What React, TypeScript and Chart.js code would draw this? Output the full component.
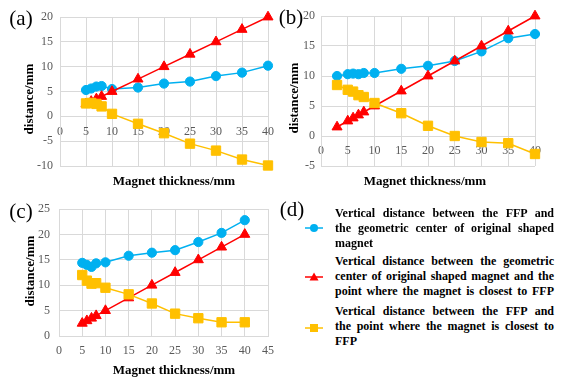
import React, { useEffect, useRef } from "react";
import { Chart, registerables } from "chart.js";
Chart.register(...registerables);

// ---------- data ----------
const seriesNames = [
  "Vertical distance between the FFP and the geometric center of original shaped magnet",
  "Vertical distance between the geometric center of original shaped magnet and the point where the magnet is closest to FFP",
  "Vertical distance between the FFP and the point where the magnet is closest to FFP",
];

const thickA = [5, 6, 7, 8, 10, 15, 20, 25, 30, 35, 40];
const blueA = [5.3, 5.6, 6.0, 6.1, 5.5, 5.8, 6.6, 7.0, 8.1, 8.8, 10.2];
const redA = [2.5, 3, 3.5, 4, 5, 7.5, 10, 12.5, 15, 17.5, 20];
const yellowA = [2.6, 2.7, 2.5, 2.0, 0.5, -1.5, -3.4, -5.5, -6.9, -8.7, -9.9];

const thickB = [3, 5, 6, 7, 8, 10, 15, 20, 25, 30, 35, 40];
const blueB = [10.0, 10.3, 10.4, 10.3, 10.5, 10.5, 11.2, 11.7, 12.5, 14.1, 16.3, 17.0];
const redB = [1.5, 2.5, 3, 3.5, 4, 5, 7.5, 10, 12.5, 15, 17.5, 20];
const yellowB = [8.5, 7.7, 7.4, 6.8, 6.5, 5.5, 3.8, 1.7, 0, -1.0, -1.2, -3.0];

const thickC = [5, 6, 7, 8, 10, 15, 20, 25, 30, 35, 40];
const blueC = [14.4, 14.0, 13.6, 14.3, 14.5, 15.8, 16.4, 16.9, 18.5, 20.3, 22.8];
const redC = [2.5, 3, 3.5, 4, 5, 7.5, 10, 12.5, 15, 17.5, 20];
const yellowC = [12.0, 10.9, 10.3, 10.4, 9.5, 8.2, 6.4, 4.4, 3.5, 2.7, 2.7];

const xTitle = "Magnet thickness/mm";
const yTitle = "distance/mm";

// ---------- styles ----------
const SERIF = '"Liberation Serif", "Times New Roman", serif';
const BLUE = "#00B0F0";
const RED = "#FF0000";
const YELLOW = "#FFC000";
const GRID = "#d9d9d9";
const TICK = "#595959";

type PanelProps = {
  xs: number[];
  blue: number[];
  red: number[];
  yellow: number[];
  xMax: number;
  yMin: number;
  yMax: number;
  left: number;
  top: number;
  width: number;
  height: number;
  yWidth: number;
  padding: { left: number; right: number; top: number; bottom: number };
  xAtZero: boolean;
  xHeight?: number;
  yTickPad: number;
};

function pts(xs: number[], ys: number[]) {
  return xs.map((x, i) => ({ x, y: ys[i] }));
}

function Panel(p: PanelProps) {
  const ref = useRef<HTMLCanvasElement | null>(null);
  useEffect(() => {
    if (!ref.current) return;
    let chart: Chart | null = null;
    let dead = false;
    const mk = (label: string, data: number[], color: string, style: any, radius: number, order: number) => ({
      label,
      data: pts(p.xs, data),
      borderColor: color,
      backgroundColor: color,
      borderWidth: 1.5,
      pointStyle: style,
      pointRadius: radius,
      pointBackgroundColor: color,
      pointBorderColor: color,
      pointBorderWidth: 1,
      tension: 0,
      clip: false,
      order,
    });
    const build = () => {
      if (dead || !ref.current) return;
      chart = new Chart(ref.current, {
        type: "line",
        data: {
          datasets: [
            mk(seriesNames[0], p.blue, BLUE, "circle", 4.6, 3),
            mk(seriesNames[1], p.red, RED, "triangle", 5.8, 2),
            mk(seriesNames[2], p.yellow, YELLOW, "rect", 6.6, 1),
          ],
        },
        options: {
          animation: false,
          responsive: false,
          layout: { padding: p.padding },
          plugins: { legend: { display: false }, tooltip: { enabled: false } },
          scales: {
            x: {
              type: "linear",
              min: 0,
              max: p.xMax,
              position: p.xAtZero ? { y: 0 } : "bottom",
              grid: { color: GRID, drawTicks: false, lineWidth: 1 },
              border: { color: GRID },
              ticks: {
                stepSize: 5,
                autoSkip: false,
                maxRotation: 0,
                padding: 8,
                color: TICK,
                font: { family: SERIF, size: 12 },
              },
              afterFit: (s: any) => {
                if (p.xHeight !== undefined) s.height = p.xHeight;
              },
            },
            y: {
              type: "linear",
              min: p.yMin,
              max: p.yMax,
              grid: { color: GRID, drawTicks: false, lineWidth: 1 },
              border: { color: GRID },
              ticks: {
                stepSize: 5,
                padding: p.yTickPad,
                color: TICK,
                font: { family: SERIF, size: 12 },
              },
              afterFit: (s: any) => {
                s.width = p.yWidth;
              },
            },
          },
        } as any,
      });
    };
    const fonts: any = (document as any).fonts;
    if (fonts && fonts.load) {
      Promise.all([fonts.load('12px "Liberation Serif"'), fonts.load('bold 12px "Liberation Serif"')])
        .then(build, build);
    } else {
      build();
    }
    return () => {
      dead = true;
      if (chart) chart.destroy();
    };
  }, []);
  return (
    <canvas
      ref={ref}
      width={p.width}
      height={p.height}
      style={{ position: "absolute", left: p.left, top: p.top, width: p.width, height: p.height }}
    />
  );
}

function Text(props: { x: number; y: number; text: string; size: number; bold?: boolean; rotate?: boolean }) {
  return (
    <div
      style={{
        position: "absolute",
        left: props.x,
        top: props.y,
        transform: `translate(-50%, -50%)${props.rotate ? " rotate(-90deg)" : ""}`,
        whiteSpace: "nowrap",
        fontFamily: SERIF,
        fontSize: props.size,
        fontWeight: props.bold ? "bold" : "normal",
        color: "#000",
        lineHeight: 1,
      }}
    >
      {props.text}
    </div>
  );
}

function Marker(props: { color: string; shape: "circle" | "triangle" | "rect"; x: number; y: number }) {
  const { color, shape } = props;
  return (
    <svg
      width={18}
      height={12}
      style={{ position: "absolute", left: props.x - 9, top: props.y - 6 }}
    >
      <line x1={0} y1={6} x2={18} y2={6} stroke={color} strokeWidth={1.5} />
      {shape === "circle" && <circle cx={9} cy={6} r={4} fill={color} />}
      {shape === "triangle" && <polygon points="9,1.5 13.5,9.5 4.5,9.5" fill={color} />}
      {shape === "rect" && <rect x={5} y={2} width={8} height={8} fill={color} />}
    </svg>
  );
}

const legendLines: string[][] = [
  ["Vertical distance between the FFP and", "the geometric center of original shaped", "magnet"],
  ["Vertical distance between the geometric", "center of original shaped magnet and the", "point where the magnet is closest to FFP"],
  ["Vertical distance between the FFP and", "the point where the magnet is closest to", "FFP"],
];

function LegendEntry(props: { lines: string[]; top: number; lastJustify: boolean }) {
  return (
    <div
      style={{
        position: "absolute",
        left: 335,
        top: props.top,
        width: 219,
        fontFamily: SERIF,
        fontSize: 12,
        fontWeight: "bold",
        lineHeight: "15px",
        color: "#000",
      }}
    >
      {props.lines.map((l, i) => {
        const justify = i < props.lines.length - 1 || props.lastJustify;
        return (
          <div
            key={i}
            style={{
              whiteSpace: "nowrap",
              textAlign: justify ? "justify" : "left",
              textAlignLast: justify ? "justify" : "left",
              height: 15,
            } as any}
          >
            {l}
          </div>
        );
      })}
    </div>
  );
}

export default function App() {
  return (
    <div
      style={{
        position: "absolute",
        left: 0,
        top: 0,
        width: 562,
        height: 380,
        background: "#fff",
        overflow: "hidden",
      }}
    >
      <Panel
        xs={thickA}
        blue={blueA}
        red={redA}
        yellow={yellowA}
        xMax={40}
        yMin={-10}
        yMax={20}
        left={0}
        top={0}
        width={282}
        height={190}
        yWidth={60}
        padding={{ left: 0, right: 9, top: 17, bottom: 24 }}
        xAtZero={true}
        yTickPad={7}
      />
      <Panel
        xs={thickB}
        blue={blueB}
        red={redB}
        yellow={yellowB}
        xMax={40}
        yMin={-5}
        yMax={20}
        left={280}
        top={0}
        width={282}
        height={190}
        yWidth={41}
        padding={{ left: 0, right: 27, top: 16, bottom: 24 }}
        xAtZero={true}
        yTickPad={6}
      />
      <Panel
        xs={thickC}
        blue={blueC}
        red={redC}
        yellow={yellowC}
        xMax={45}
        yMin={0}
        yMax={25}
        left={0}
        top={190}
        width={282}
        height={190}
        yWidth={59}
        padding={{ left: 0, right: 9, top: 19, bottom: 0 }}
        xAtZero={false}
        xHeight={44}
        yTickPad={9}
      />

      <Text x={21} y={18} text="(a)" size={21} />
      <Text x={291} y={17} text="(b)" size={21} />
      <Text x={21} y={211} text="(c)" size={21} />
      <Text x={292} y={209} text="(d)" size={21} />

      <Text x={174} y={180} text={xTitle} size={13} bold />
      <Text x={425} y={180} text={xTitle} size={13} bold />
      <Text x={174} y={369} text={xTitle} size={13} bold />

      <Text x={28} y={99} text={yTitle} size={13} bold rotate />
      <Text x={293} y={98} text={yTitle} size={13} bold rotate />
      <Text x={29} y={271} text={yTitle} size={13} bold rotate />

      <Marker color={BLUE} shape="circle" x={314} y={228} />
      <Marker color={RED} shape="triangle" x={314} y={277} />
      <Marker color={YELLOW} shape="rect" x={314} y={328} />

      <LegendEntry lines={legendLines[0]} top={206} lastJustify={false} />
      <LegendEntry lines={legendLines[1]} top={254} lastJustify={true} />
      <LegendEntry lines={legendLines[2]} top={304} lastJustify={false} />
    </div>
  );
}
